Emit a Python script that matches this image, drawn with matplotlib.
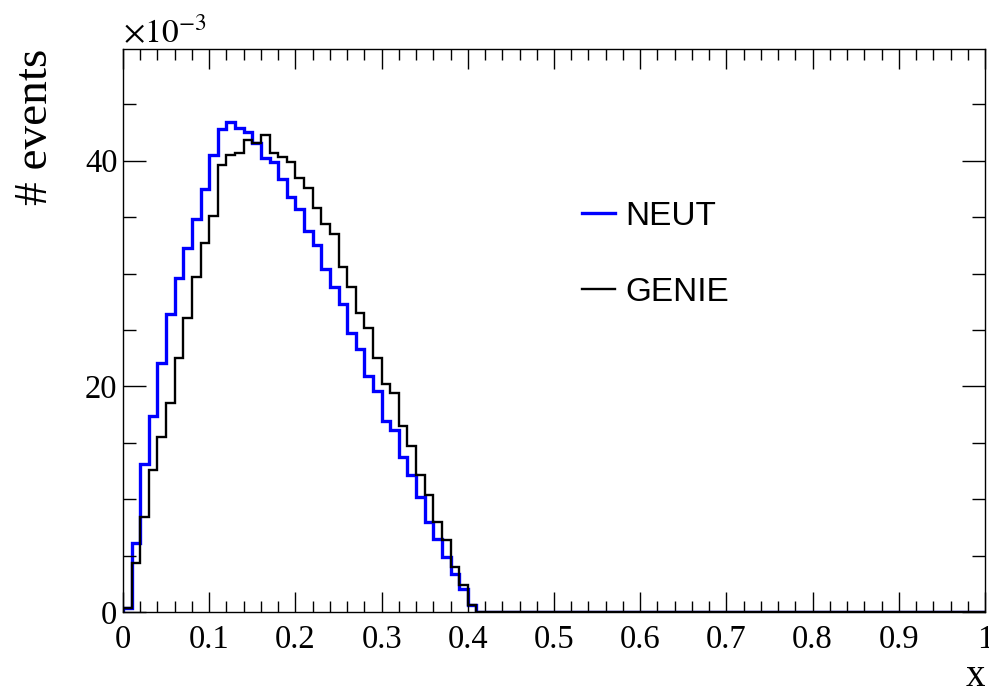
import numpy as np
import matplotlib
matplotlib.use('Agg')
import matplotlib.pyplot as plt
from matplotlib.ticker import MultipleLocator, FixedLocator

## Histogram contents, in units of 1e-3, bins of width 0.01 on [0, 1]
# bins above x = 0.41 are empty
n_bins = 100
x_min, x_max = 0.0, 1.0

neut_vals = [0.35, 6.1, 13.1, 17.4, 22.1, 26.4, 29.6, 32.3, 34.8, 37.5,
             40.5, 42.8, 43.4, 42.9, 42.5, 41.6, 40.2, 39.9, 38.4, 36.8,
             35.7, 33.8, 32.5, 30.4, 28.8, 27.3, 24.7, 23.3, 20.9, 19.6,
             16.9, 16.1, 13.7, 12.1, 10.2, 8.0, 6.5, 4.9, 3.4, 2.0,
             0.6]
genie_vals = [0.35, 4.3, 8.4, 12.6, 15.5, 18.5, 22.5, 26.1, 29.7, 32.7,
              35.1, 39.6, 40.5, 40.7, 41.8, 41.6, 42.3, 40.7, 40.3, 39.9,
              38.5, 37.6, 35.8, 34.4, 33.5, 30.6, 28.8, 26.5, 25.2, 22.5,
              20.2, 19.4, 16.5, 14.7, 12.1, 10.4, 8.0, 6.4, 4.0, 2.4,
              0.6]
labels = ["NEUT", "GENIE"]
colors = ["#0000ff", "#000000"]
y_ticks = [0, 20, 40]

neut = np.concatenate([neut_vals, np.zeros(n_bins - len(neut_vals))])
genie = np.concatenate([genie_vals, np.zeros(n_bins - len(genie_vals))])
edges = np.linspace(x_min, x_max, n_bins + 1)

plt.rcParams['mathtext.fontset'] = 'stix'
serif = 'Liberation Serif'

fig = plt.figure(figsize=(9.89, 6.95), dpi=100)
ax = fig.add_axes([123/989, 83/695, 862/989, 563/695])

ax.stairs(neut, edges, color=colors[0], linewidth=2.4, label=labels[0], baseline=0)
ax.stairs(genie, edges, color=colors[1], linewidth=1.7, label=labels[1], baseline=0)

ax.set_xlim(x_min, x_max)
ax.set_ylim(0, 49.9)

## ROOT-like axes
ax.xaxis.set_major_locator(MultipleLocator(0.1))
ax.xaxis.set_minor_locator(MultipleLocator(0.02))
ax.yaxis.set_major_locator(FixedLocator(y_ticks))
ax.yaxis.set_minor_locator(MultipleLocator(5))
ax.set_xticks(np.round(np.arange(0, 1.01, 0.1), 1))
ax.set_xticklabels(['0'] + ['%.1f' % v for v in np.arange(0.1, 0.95, 0.1)] + ['1'])
ax.set_yticklabels([str(v) for v in y_ticks])

ax.tick_params(axis='both', which='both', direction='in', top=True, right=True, width=1)
ax.tick_params(axis='x', which='major', length=14.4, pad=9)
ax.tick_params(axis='x', which='minor', length=7.9)
ax.tick_params(axis='y', which='major', length=16.5, pad=4)
ax.tick_params(axis='y', which='minor', length=9.3)
for lab in ax.get_xticklabels() + ax.get_yticklabels():
    lab.set_fontfamily(serif)
    lab.set_fontsize(23.5)
for sp in ax.spines.values():
    sp.set_linewidth(1)

ax.set_xlabel('x', fontsize=28, fontfamily=serif, loc='right', va='bottom')
ax.xaxis.set_label_coords(1.0, -0.1474)
ax.set_ylabel('# events', fontsize=34, fontfamily=serif, loc='top', va='baseline')
ax.yaxis.set_label_coords(-0.088, 1.0)

ax.text(0.0, 1.0107, r'$\times10^{-3}$', transform=ax.transAxes, fontsize=24,
        ha='left', va='baseline')

ax.legend(loc='upper left', bbox_to_anchor=(0.5325, 0.73), frameon=False,
          prop={'family': 'Liberation Sans', 'size': 24}, handlelength=1.0,
          handletextpad=0.3, labelspacing=1.34, borderpad=0, borderaxespad=0)

fig.savefig('out.png', dpi=100)
